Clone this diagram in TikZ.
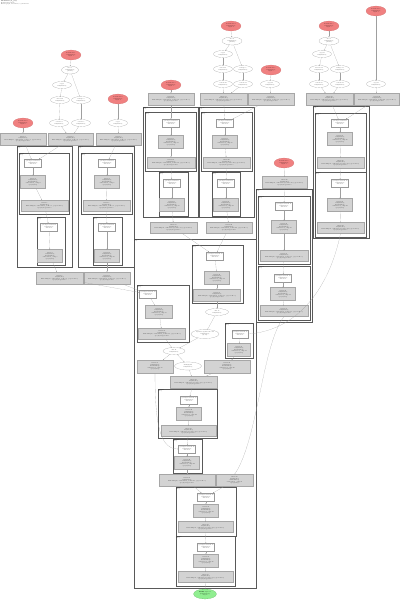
\documentclass[tikz,border=0pt]{standalone}
\usepackage{tikz}
\usetikzlibrary{arrows.meta,shapes.geometric}
\definecolor{paramcolor}{RGB}{240,128,128}
\definecolor{rootcolor}{RGB}{144,238,144}
\definecolor{fusioncolor}{RGB}{211,211,211}
\tikzset{
    hlonode/.style={font=\fontsize{3.5}{4.3}\selectfont, align=center, inner sep=0.5pt},
    param/.style={hlonode, ellipse, fill=paramcolor, draw=paramcolor!85!black, minimum width=20mm, minimum height=10mm},
    rootop/.style={hlonode, ellipse, fill=rootcolor, draw=rootcolor!75!black, minimum width=23mm, minimum height=10mm},
    elemop/.style={hlonode, ellipse, draw=gray!80, fill=white, minimum width=19mm, minimum height=7mm},
    gte/.style={hlonode, rectangle, draw=gray!80, fill=white, minimum width=17mm, minimum height=8mm},
    fusion/.style={hlonode, rectangle, draw=gray!70, fill=fusioncolor, minimum width=25mm, minimum height=13mm},
    widefusion/.style={fusion, minimum width=47mm, minimum height=12mm},
    hloedge/.style={draw=gray!75, line width=0.3pt, -{Stealth[length=0.8mm,width=0.6mm]}},
    clusterline/.style={draw=black!65, line width=0.6pt},
    clusterlabel/.style={font=\fontsize{3}{3.6}\selectfont, anchor=north west, align=left, inner sep=0.6pt},
}
\newcommand{\hlocluster}[6]{%
    \draw[clusterline] (#2,#3) rectangle (#4,#5);
    \node[clusterlabel] (#1) at (#2,#3) {#6};}
\newcommand{\paramtext}[1]{Parameter #1\\f32[128,256]\\input.#1}
\newcommand{\optext}[2]{#1.#2\\f32[128,256]}
\newcommand{\gtetext}[1]{get-tuple-element.#1\\f32[128,256]\\index=0}
\newcommand{\fusiontext}[1]{fusion.#1\\f32[128,256]\\kind=kLoop\\calls=fused\_comp.#1\\op=jit/step}
\newcommand{\widetext}[1]{fusion.#1\\f32[128,256]\\kind=kInput, calls=fused\_reduce.#1, \{op=reduce\}\\op=jit/step/reduce}

\begin{document}
\begin{tikzpicture}[x=1mm,y=-1mm]
    \useasboundingbox (0,0) rectangle (400,600);
    \node[anchor=north west, align=left, inner sep=0pt, font=\fontsize{3.4}{4.2}\selectfont] (title) at (1,1)
        {\textbf{HloModule jit\_step}\\Computation main\\Fusion graph, 28 fusions, 9 parameters};

    % clusters
    \hlocluster{c1}{17}{146}{72}{267}{while.1\\body}
    \hlocluster{c1a}{19}{153}{69}{214}{fusion.2\\kLoop}
    \hlocluster{c1b}{37}{217}{65}{265}{fusion.3\\kLoop}
    \hlocluster{c2}{78}{146}{134}{267}{while.4\\body}
    \hlocluster{c2a}{81}{153}{132}{214}{fusion.5\\kLoop}
    \hlocluster{c2b}{93}{217}{122}{265}{fusion.6\\kLoop}
    \hlocluster{cM}{143}{107}{198}{217}{while.7\\body}
    \hlocluster{cM1}{145}{112}{196}{171}{fusion.8\\kLoop}
    \hlocluster{cM2}{159}{172}{188}{216}{fusion.9\\kLoop}
    \hlocluster{cN}{199}{107}{254}{217}{while.10\\body}
    \hlocluster{cN1}{201}{112}{252}{171}{fusion.11\\kLoop}
    \hlocluster{cN2}{212}{172}{240}{216}{fusion.12\\kLoop}
    \hlocluster{cJ}{313}{106}{369}{238}{while.13\\body}
    \hlocluster{cJ1}{315}{113}{366}{172}{fusion.14\\kLoop}
    \hlocluster{cJ2}{315}{172}{366}{237}{fusion.15\\kLoop}
    \hlocluster{cK}{256}{189}{312}{322}{while.16\\body}
    \hlocluster{cK1}{258}{196}{310}{264}{fusion.17\\kLoop}
    \hlocluster{cK2}{258}{266}{310}{320}{fusion.18\\kLoop}
    \hlocluster{cZ}{134}{239}{256}{588}{while.19\\body}
    \hlocluster{cC}{192}{245}{243}{303}{fusion.20\\kLoop}
    \hlocluster{cD}{137}{285}{189}{342}{fusion.21\\kLoop}
    \hlocluster{cE}{225}{323}{253}{358}{fusion.22\\kLoop}
    \hlocluster{cF}{158}{389}{217}{438}{fusion.23\\kLoop}
    \hlocluster{cG}{173}{439}{202}{473}{fusion.24\\kLoop}
    \hlocluster{cH}{176}{487}{236}{536}{fusion.25\\kLoop}
    \hlocluster{cI}{176}{536}{235}{586}{fusion.26\\kLoop}

    % left columns
    \node[param] (pA) at (23,123) {\paramtext{0}};
    \node[param] (pB) at (71,55) {\paramtext{1}};
    \node[elemop, minimum width=17mm, minimum height=8mm] (sB) at (70,70) {slice.1\\f32[128,256]\\\{0:128\}};
    \node[elemop] (oB1) at (62,85) {\optext{copy}{1}};
    \node[elemop] (oB2) at (60,100) {\optext{bitcast}{2}};
    \node[elemop] (oB3) at (81,100) {\optext{reshape}{3}};
    \node[elemop] (oB4) at (59,123) {\optext{convert}{4}};
    \node[elemop] (oB5) at (81,123) {\optext{convert}{5}};
    \node[param] (pC) at (118,99) {\paramtext{2}};
    \node[elemop] (oC) at (118,123) {\optext{copy}{6}};
    \node[widefusion, minimum width=46mm] (gA) at (23,139) {\widetext{1}};
    \node[widefusion, minimum width=45mm] (gB) at (70.5,139) {\widetext{2}};
    \node[widefusion, minimum width=45mm] (gC) at (118.5,139) {\widetext{3}};

    \node[gte] (w1a) at (33,163) {\gtetext{1}};
    \node[fusion] (f1a) at (33,182) {\fusiontext{4}};
    \node[widefusion, minimum height=11mm] (x1a) at (44.5,205.5) {\widetext{5}};
    \node[gte] (w1b) at (49,227) {\gtetext{2}};
    \node[fusion] (f1b) at (50,256) {\fusiontext{6}};
    \node[widefusion] (b1) at (59.5,278) {\widetext{7}};
    \node[gte] (w2a) at (107,163) {\gtetext{3}};
    \node[fusion] (f2a) at (107,182) {\fusiontext{8}};
    \node[widefusion, minimum height=11mm] (x2a) at (106.5,205.5) {\widetext{9}};
    \node[gte] (w2b) at (107,227) {\gtetext{4}};
    \node[fusion] (f2b) at (107,256) {\fusiontext{10}};
    \node[widefusion, minimum width=46mm] (b2) at (107,278) {\widetext{11}};

    % middle columns
    \node[param] (pM) at (171,85) {\paramtext{3}};
    \node[widefusion, minimum width=46mm] (gM) at (171,99) {\widetext{12}};
    \node[gte] (wM1) at (171,123) {\gtetext{5}};
    \node[fusion] (fM1) at (171,142) {\fusiontext{13}};
    \node[widefusion, minimum width=48mm, minimum height=11mm] (xM1) at (171,162.5) {\widetext{14}};
    \node[gte] (wM2) at (172,183) {\gtetext{6}};
    \node[fusion] (fM2) at (172,205) {\fusiontext{15}};
    \node[widefusion, minimum height=11mm] (bM) at (173.5,227.5) {\widetext{16}};

    \node[param] (pD) at (231,26) {\paramtext{4}};
    \node[elemop, minimum width=20mm, minimum height=8mm] (sD) at (232,41) {slice.2\\f32[128,256]\\\{0:128\}};
    \node[elemop] (oD1) at (223,54) {\optext{copy}{7}};
    \node[elemop] (oD2) at (223,69) {\optext{bitcast}{8}};
    \node[elemop] (oD3) at (243,69) {\optext{reshape}{9}};
    \node[elemop] (oD4) at (223,84) {\optext{convert}{10}};
    \node[elemop] (oD5) at (243,84) {\optext{convert}{11}};
    \node[param] (pD2) at (271,70) {\paramtext{5}};
    \node[elemop] (oD6) at (270,84) {\optext{copy}{12}};
    \node[widefusion] (gD1) at (223.5,99) {\widetext{17}};
    \node[widefusion, minimum width=46mm] (gD2) at (271,99) {\widetext{18}};
    \node[gte] (wN1) at (225,123) {\gtetext{7}};
    \node[fusion] (fN1) at (225,142) {\fusiontext{19}};
    \node[widefusion, minimum height=11mm] (xN1) at (226.5,162.5) {\widetext{20}};
    \node[gte] (wN2) at (226,183) {\gtetext{8}};
    \node[fusion] (fN2) at (226,205) {\fusiontext{21}};
    \node[widefusion, minimum width=46mm, minimum height=11mm] (bN) at (229,227.5) {\widetext{22}};

    % right columns
    \node[param] (pE) at (329,26) {\paramtext{6}};
    \node[elemop, minimum width=20mm, minimum height=8mm] (sE) at (329,41) {slice.3\\f32[128,256]\\\{0:128\}};
    \node[elemop] (oE1) at (322,54) {\optext{copy}{13}};
    \node[elemop] (oE2) at (319,69) {\optext{bitcast}{14}};
    \node[elemop] (oE3) at (340,69) {\optext{reshape}{15}};
    \node[elemop] (oE4) at (319,84) {\optext{convert}{16}};
    \node[elemop] (oE5) at (340,84) {\optext{convert}{17}};
    \node[param] (pE2) at (376,11) {\paramtext{7}};
    \node[elemop] (oE6) at (376,84) {\optext{copy}{18}};
    \node[widefusion] (gE1) at (329.5,99) {\widetext{23}};
    \node[widefusion, minimum width=45mm] (gE2) at (377,99) {\widetext{24}};
    \node[gte] (wJ1) at (340,123) {\gtetext{9}};
    \node[fusion] (fJ1) at (340,139) {\fusiontext{25}};
    \node[widefusion, minimum height=11mm] (xJ1) at (340.5,163) {\widetext{26}};
    \node[gte] (wJ2) at (340,183) {\gtetext{10}};
    \node[fusion] (fJ2) at (340,205) {\fusiontext{27}};
    \node[widefusion, minimum height=11mm] (xJ2) at (340.5,228) {\widetext{28}};

    \node[param] (pK) at (284,163) {\paramtext{8}};
    \node[widefusion, minimum width=45mm] (gK) at (284.5,182.5) {\widetext{29}};
    \node[gte] (wK1) at (284,206) {\gtetext{11}};
    \node[fusion] (fK1) at (284,227) {\fusiontext{30}};
    \node[widefusion, minimum width=48mm, minimum height=11mm] (xK1) at (284,256) {\widetext{31}};
    \node[gte] (wK2) at (283,278) {\gtetext{12}};
    \node[fusion] (fK2) at (283,294) {\fusiontext{32}};
    \node[widefusion, minimum width=48mm, minimum height=11mm] (xK2) at (284,311) {\widetext{33}};

    % main loop body
    \node[gte] (wC) at (215,256) {\gtetext{13}};
    \node[fusion] (fC) at (217,278) {\fusiontext{34}};
    \node[widefusion] (xC) at (217,295) {\widetext{35}};
    \node[gte] (wD) at (148,294) {\gtetext{14}};
    \node[fusion, minimum width=27mm] (fD) at (159,312) {\fusiontext{36}};
    \node[widefusion, minimum height=11mm] (xD) at (162,333.5) {\widetext{37}};
    \node[elemop, minimum width=23mm] (eZ1) at (217,312) {\optext{add}{19}};
    \node[elemop, minimum width=28mm, minimum height=9mm] (eZ2) at (205,334) {dynamic-update-slice.20\\f32[128,256]\\\{0:64\}};
    \node[gte, minimum width=16mm] (wE) at (240,334) {\gtetext{15}};
    \node[fusion, minimum width=23mm] (fE) at (239,350) {\fusiontext{38}};
    \node[elemop, minimum width=22mm] (eZ3) at (174,351) {\optext{add}{21}};
    \node[elemop, minimum width=27mm, minimum height=8mm] (eZ4) at (188,366) {\optext{multiply}{22}};
    \node[fusion, minimum width=36mm] (gZ1) at (155,366.5) {\fusiontext{39}};
    \node[fusion, minimum width=46mm] (gZ2) at (227,366.5) {\fusiontext{40}};
    \node[widefusion] (gZ3) at (193.5,382) {\widetext{41}};
    \node[gte] (wF) at (189,400) {\gtetext{16}};
    \node[fusion] (fF) at (189,413.5) {\fusiontext{42}};
    \node[widefusion, minimum width=55mm, minimum height=11mm] (xF) at (188.5,431) {\widetext{43}};
    \node[gte] (wG) at (187,449) {\gtetext{17}};
    \node[fusion] (fG) at (187,463) {\fusiontext{44}};
    \node[widefusion, minimum width=56mm] (gZ4) at (187,480.5) {\widetext{45}};
    \node[fusion, minimum width=37mm, minimum height=12mm] (gZ5) at (234.5,480.5) {\fusiontext{46}};
    \node[gte] (wH) at (206,497) {\gtetext{18}};
    \node[fusion] (fH) at (206,510.5) {\fusiontext{47}};
    \node[widefusion, minimum width=55mm, minimum height=11mm] (xH) at (205.5,527) {\widetext{48}};
    \node[gte] (wI) at (206,547) {\gtetext{19}};
    \node[fusion] (fI) at (206,560.5) {\fusiontext{49}};
    \node[widefusion, minimum width=55mm, minimum height=11mm] (xI) at (205.5,577) {\widetext{50}};
    \node[rootop] (root) at (205,594) {\textbf{ROOT} tuple.51\\(f32[128,256])\\output};

    % edges
    \path[hloedge] (pA) edge (gA) (pB) edge (sB) (sB) edge (oB1) (oB1) edge (oB2) (oB2) edge (oB4)
        (sB) edge (oB3) (oB3) edge (oB5) (oB4) edge (gB) (oB5) edge (gB) (pC) edge (oC) (oC) edge (gC);
    \path[hloedge] (gA) edge (w1a) (gB) edge (w1a) (gC) edge (w2a);
    \path[hloedge] (w1a) edge (f1a) (f1a) edge (x1a) (x1a) edge (w1b) (w1b) edge (f1b) (f1b) edge (b1);
    \path[hloedge] (w2a) edge (f2a) (f2a) edge (x2a) (x2a) edge (w2b) (w2b) edge (f2b) (f2b) edge (b2);
    \path[hloedge] (pM) edge (gM) (gM) edge (wM1) (wM1) edge (fM1) (fM1) edge (xM1) (xM1) edge (wM2)
        (wM2) edge (fM2) (fM2) edge (bM);
    \path[hloedge] (pD) edge (sD) (sD) edge (oD1) (oD1) edge (oD2) (oD2) edge (oD4) (sD) edge (oD3)
        (oD3) edge (oD5) (oD4) edge (gD1) (oD5) edge (gD1) (pD2) edge (oD6) (oD6) edge (gD2);
    \path[hloedge] (gD1) edge (wN1) (gD2) edge (wN1) (wN1) edge (fN1) (fN1) edge (xN1) (xN1) edge (wN2)
        (wN2) edge (fN2) (fN2) edge (bN);
    \path[hloedge] (pE) edge (sE) (sE) edge (oE1) (oE1) edge (oE2) (oE2) edge (oE4) (sE) edge (oE3)
        (oE3) edge (oE5) (oE4) edge (gE1) (oE5) edge (gE1) (pE2) edge (oE6) (oE6) edge (gE2);
    \path[hloedge] (gE1) edge (wJ1) (gE2) edge (wJ1) (wJ1) edge (fJ1) (fJ1) edge (xJ1) (xJ1) edge (wJ2)
        (wJ2) edge (fJ2) (fJ2) edge (xJ2);
    \path[hloedge] (pK) edge (gK) (gK) edge (wK1) (wK1) edge (fK1) (fK1) edge (xK1) (xK1) edge (wK2)
        (wK2) edge (fK2) (fK2) edge (xK2);
    \path[hloedge] (bM) edge (wC) (bN) edge (wC) (b1) edge (wD) (b2) edge (wD);
    \path[hloedge] (wC) edge (fC) (fC) edge (xC) (xC) edge (eZ1) (eZ1) edge (eZ2)
        (wD) edge (fD) (fD) edge (xD) (xD) edge (eZ3) (eZ2) edge (eZ3) (eZ3) edge (gZ1) (eZ3) edge (eZ4)
        (eZ4) edge (gZ3) (gZ2) edge (gZ3) (wE) edge (fE) (fE) edge (gZ2);
    \path[hloedge] (gZ3) edge (wF) (wF) edge (fF) (fF) edge (xF) (xF) edge (wG) (wG) edge (fG) (fG) edge (gZ4)
        (gZ4) edge (wH) (gZ5) edge (wH) (wH) edge (fH) (fH) edge (xH) (xH) edge (wI) (wI) edge (fI)
        (fI) edge (xI) (xI) edge (root);
    \draw[hloedge] (xJ2.south) .. controls (330,285) and (300,330) .. (wE.east);
    \draw[hloedge] (xK2.south) .. controls (262,345) and (258,440) .. (gZ5.north);
    \draw[hloedge] (gZ1.south) .. controls (155,425) and (160,449) .. (wG.west);
\end{tikzpicture}
\end{document}
